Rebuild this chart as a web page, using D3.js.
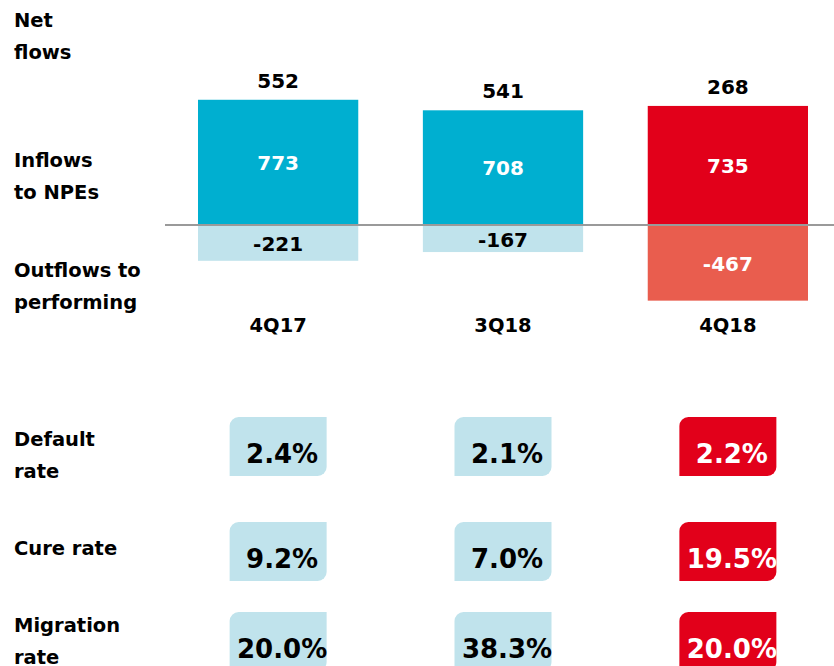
<!DOCTYPE html>
<html>
<head>
<meta charset="utf-8">
<script src="https://cdn.jsdelivr.net/npm/d3@7"></script>
<style>
  html, body { margin: 0; padding: 0; background: #fff; }
  svg { display: block; font-family: "DejaVu Sans", sans-serif; font-weight: bold; }
</style>
</head>
<body>
<svg id="chart" width="834" height="666"></svg>
<script>
const categories = ["4Q17", "3Q18", "4Q18"];
const inflows = [773, 708, 735];
const outflows = [-221, -167, -467];
const netFlows = [552, 541, 268];
const highlight = [false, false, true];
const rateRows = ["Default rate", "Cure rate", "Migration rate"];
const defaultRate = ["2.4%", "2.1%", "2.2%"];
const cureRate = ["9.2%", "7.0%", "19.5%"];
const migrationRate = ["20.0%", "38.3%", "20.0%"];

const svg = d3.select("#chart");

const x = d3.scaleBand().domain(categories).range([198, 808]).paddingInner(0.2873).paddingOuter(0);
const y = d3.scaleLinear().domain([-500, 800]).range([306, 95.4]);

const C = {
  blue: "#00AFD0", lightBlue: "#C0E3EC",
  red: "#E2001A", lightRed: "#E95D4E",
  axis: "#9A9A9A", text: "#000"
};

// left labels
const leftLabels = [
  {lines: ["Net", "flows"], y: 27},
  {lines: ["Inflows", "to NPEs"], y: 167},
  {lines: ["Outflows to", "performing"], y: 277},
  {lines: ["Default", "rate"], y: 446},
  {lines: ["Cure rate"], y: 555},
  {lines: ["Migration", "rate"], y: 632}
];
leftLabels.forEach(l => {
  const t = svg.append("text").attr("x", 14).attr("y", l.y)
    .attr("font-size", 19.5).attr("fill", C.text);
  l.lines.forEach((s, i) => t.append("tspan").attr("x", 14).attr("dy", i === 0 ? 0 : 31.5).text(s));
});

const data = categories.map((c, i) => ({c, inflow: inflows[i], outflow: outflows[i], net: netFlows[i], hl: highlight[i]}));

// inflow bars
svg.selectAll("rect.in").data(data).join("rect").attr("class", "in")
  .attr("x", d => x(d.c)).attr("width", x.bandwidth())
  .attr("y", d => y(d.inflow)).attr("height", d => y(0) - y(d.inflow))
  .attr("fill", d => d.hl ? C.red : C.blue);

// outflow bars
svg.selectAll("rect.out").data(data).join("rect").attr("class", "out")
  .attr("x", d => x(d.c)).attr("width", x.bandwidth())
  .attr("y", y(0)).attr("height", d => y(d.outflow) - y(0))
  .attr("fill", d => d.hl ? C.lightRed : C.lightBlue);

// baseline
svg.append("line").attr("x1", 165).attr("x2", 834).attr("y1", y(0)).attr("y2", y(0))
  .attr("stroke", C.axis).attr("stroke-width", 2);

const cx = d => x(d.c) + x.bandwidth() / 2;

// net labels
svg.selectAll("text.net").data(data).join("text").attr("class", "net")
  .attr("x", cx).attr("y", d => y(d.inflow) - 12)
  .attr("text-anchor", "middle").attr("font-size", 20).attr("fill", C.text)
  .text(d => d.net);

// inflow labels
svg.selectAll("text.inl").data(data).join("text").attr("class", "inl")
  .attr("x", cx).attr("y", d => (y(d.inflow) + y(0)) / 2)
  .attr("dy", "0.36em")
  .attr("text-anchor", "middle").attr("font-size", 20).attr("fill", "#fff")
  .text(d => d.inflow);

// outflow labels
svg.selectAll("text.outl").data(data).join("text").attr("class", "outl")
  .attr("x", cx).attr("y", d => (y(d.outflow) + y(0)) / 2 + 1)
  .attr("dy", "0.36em")
  .attr("text-anchor", "middle").attr("font-size", 20).attr("fill", d => d.hl ? "#fff" : C.text)
  .text(d => d.outflow);

// category labels
svg.selectAll("text.cat").data(data).join("text").attr("class", "cat")
  .attr("x", cx).attr("y", 332)
  .attr("text-anchor", "middle").attr("font-size", 19.5).attr("fill", C.text)
  .text(d => d.c);

// rate boxes
const rows = [defaultRate, cureRate, migrationRate];
const rowTop = [417, 522, 612];
const bw = 97, bh = 59, r = 9;
function boxPath(x0, y0) {
  const p = d3.path();
  p.moveTo(x0 + r, y0);
  p.lineTo(x0 + bw, y0);
  p.lineTo(x0 + bw, y0 + bh - r);
  p.arcTo(x0 + bw, y0 + bh, x0 + bw - r, y0 + bh, r);
  p.lineTo(x0, y0 + bh);
  p.lineTo(x0, y0 + r);
  p.arcTo(x0, y0, x0 + r, y0, r);
  p.closePath();
  return p.toString();
}
rows.forEach((vals, ri) => {
  const g = svg.append("g");
  data.forEach((d, i) => {
    const c = cx(d);
    g.append("path").attr("d", boxPath(c - bw / 2, rowTop[ri]))
      .attr("fill", d.hl ? C.red : C.lightBlue);
    g.append("text").attr("x", c + 4).attr("y", rowTop[ri] + 46)
      .attr("text-anchor", "middle").attr("font-size", 26)
      .attr("fill", d.hl ? "#fff" : C.text).text(vals[i]);
  });
});
</script>
</body>
</html>
